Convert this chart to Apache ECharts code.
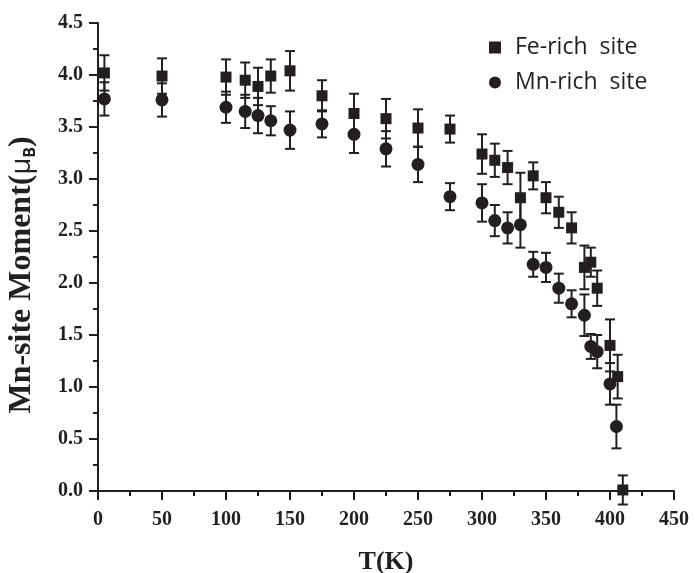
<!DOCTYPE html>
<html>

<head>
    <meta charset="UTF-8" />
    <title>Mn-site moment</title>
    <script src="https://cdn.jsdelivr.net/npm/echarts@6/dist/echarts.min.js"></script>
    <style>
        body { margin: 0; background: #fff; }
        #chart { width: 695px; height: 573px; }
    </style>
</head>

<body>
    <div id="chart"></div>

    <script type="text/javascript">
        // Fe-rich site
        let feT = [5, 50, 100, 115, 125, 135, 150, 175, 200, 225, 250, 275, 300, 310, 320, 330, 340, 350, 360, 370, 380, 385, 390, 400, 406, 410];
        let feM = [4.02, 3.99, 3.98, 3.95, 3.89, 3.99, 4.04, 3.80, 3.63, 3.58, 3.49, 3.48, 3.24, 3.18, 3.11, 2.82, 3.03, 2.82, 2.68, 2.53, 2.15, 2.20, 1.95, 1.40, 1.10, 0.01];
        let feErr = [0.17, 0.17, 0.17, 0.17, 0.18, 0.16, 0.19, 0.15, 0.19, 0.19, 0.18, 0.13, 0.19, 0.16, 0.16, 0.24, 0.13, 0.15, 0.15, 0.15, 0.21, 0.14, 0.17, 0.25, 0.21, 0.14];

        // Mn-rich site
        let mnT = [5, 50, 100, 115, 125, 135, 150, 175, 200, 225, 250, 275, 300, 310, 320, 330, 340, 350, 360, 370, 380, 385, 390, 400, 405];
        let mnM = [3.77, 3.76, 3.69, 3.65, 3.61, 3.56, 3.47, 3.53, 3.43, 3.29, 3.14, 2.83, 2.77, 2.60, 2.53, 2.56, 2.18, 2.15, 1.95, 1.80, 1.69, 1.39, 1.34, 1.03, 0.62];
        let mnErr = [0.16, 0.16, 0.15, 0.16, 0.17, 0.14, 0.18, 0.13, 0.18, 0.17, 0.17, 0.13, 0.18, 0.15, 0.15, 0.22, 0.12, 0.14, 0.14, 0.13, 0.20, 0.12, 0.16, 0.20, 0.21];

        let ink = '#231f20';
        let serif = '"Liberation Serif", "Times New Roman", serif';

        let points = (t, m) => t.map((x, i) => [x, m[i]]);
        let bars = (t, m, e) => t.map((x, i) => [x, m[i] - e[i], m[i] + e[i]]);

        // error bar with caps
        let renderErr = (params, api) => {
            let lo = api.coord([api.value(0), api.value(1)]);
            let hi = api.coord([api.value(0), api.value(2)]);
            let w = 5;
            let style = { stroke: ink, lineWidth: 2 };
            return {
                type: 'group',
                children: [
                    { type: 'line', shape: { x1: lo[0], y1: lo[1], x2: hi[0], y2: hi[1] }, style: style },
                    { type: 'line', shape: { x1: lo[0] - w, y1: lo[1], x2: lo[0] + w, y2: lo[1] }, style: style },
                    { type: 'line', shape: { x1: hi[0] - w, y1: hi[1], x2: hi[0] + w, y2: hi[1] }, style: style }
                ]
            };
        };

        let chart = echarts.init(document.getElementById('chart'));
        let option = {
            animation: false,
            grid: { left: 98, right: 21, top: 23, bottom: 82, containLabel: false, outerBoundsMode: 'none' },
            legend: {
                orient: 'vertical',
                left: 484,
                top: 31,
                itemGap: 12,
                itemWidth: 12,
                itemHeight: 12,
                data: [
                    { name: 'Fe-rich  site', icon: 'rect' },
                    { name: 'Mn-rich  site', icon: 'circle' }
                ],
                textStyle: { fontFamily: '"Open Sans"', fontSize: 23, color: ink, padding: [0, 0, 0, 9] }
            },
            xAxis: {
                type: 'value',
                min: 0,
                max: 450,
                interval: 50,
                name: 'T(K)',
                nameLocation: 'middle',
                nameGap: 58,
                nameTextStyle: { fontFamily: serif, fontWeight: 'bold', fontSize: 26, color: ink },
                axisLine: { onZero: false, lineStyle: { color: ink, width: 2 } },
                axisTick: { inside: false, length: 9, lineStyle: { color: ink, width: 2 } },
                minorTick: { show: true, splitNumber: 2, length: 5, lineStyle: { color: ink, width: 2 } },
                splitLine: { show: false },
                axisLabel: { margin: 19, fontFamily: serif, fontWeight: 'bold', fontSize: 20, color: ink }
            },
            yAxis: {
                type: 'value',
                min: 0,
                max: 4.5,
                interval: 0.5,
                name: '{a|Mn-site Moment(}{u|μ}{b|B}{a|)}',
                nameLocation: 'middle',
                nameGap: 60,
                nameTextStyle: {
                    color: ink,
                    padding: [0, 36, 0, 0],
                    rich: {
                        a: { fontFamily: serif, fontWeight: 'bold', fontSize: 32, color: ink },
                        u: { fontFamily: '"Open Sans"', fontSize: 27, color: ink },
                        b: { fontFamily: '"Open Sans"', fontWeight: 'bold', fontSize: 16, color: ink, padding: [16, 0, 0, 0] }
                    }
                },
                axisLine: { show: true, lineStyle: { color: ink, width: 2 } },
                axisTick: { show: true, inside: false, length: 9, lineStyle: { color: ink, width: 2 } },
                minorTick: { show: true, splitNumber: 2, length: 5, lineStyle: { color: ink, width: 2 } },
                splitLine: { show: false },
                axisLabel: {
                    margin: 15,
                    fontFamily: serif,
                    fontWeight: 'bold',
                    fontSize: 20,
                    color: ink,
                    formatter: v => v.toFixed(1)
                }
            },
            series: [
                {
                    type: 'custom',
                    renderItem: renderErr,
                    data: bars(feT, feM, feErr),
                    encode: { x: 0, y: [1, 2] },
                    z: 2
                },
                {
                    type: 'custom',
                    renderItem: renderErr,
                    data: bars(mnT, mnM, mnErr),
                    encode: { x: 0, y: [1, 2] },
                    z: 2
                },
                {
                    name: 'Fe-rich  site',
                    type: 'scatter',
                    symbol: 'rect',
                    symbolSize: 11,
                    itemStyle: { color: ink, opacity: 1 },
                    data: points(feT, feM),
                    z: 3
                },
                {
                    name: 'Mn-rich  site',
                    type: 'scatter',
                    symbol: 'circle',
                    symbolSize: 13,
                    itemStyle: { color: ink, opacity: 1 },
                    data: points(mnT, mnM),
                    z: 3
                }
            ]
        };
        chart.setOption(option);
    </script>
</body>

</html>
